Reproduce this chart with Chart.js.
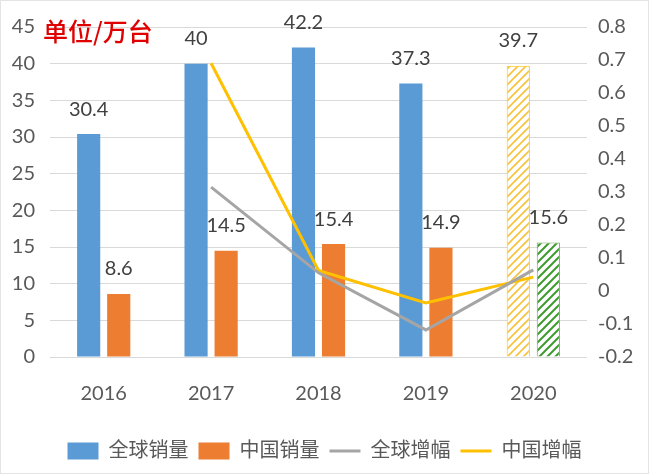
<!DOCTYPE html>
<html><head><meta charset="utf-8">
<script src="https://cdn.jsdelivr.net/npm/chart.js@4.4.0/dist/chart.umd.min.js"></script>
<style>html,body{margin:0;padding:0;background:#fff;} canvas{display:block;}</style>
</head><body>
<canvas id="c" width="649" height="474"></canvas>
<script>
const categories = ['2016', '2017', '2018', '2019', '2020'];
const globalSales = [30.4, 40, 42.2, 37.3, 39.7];
const chinaSales = [8.6, 14.5, 15.4, 14.9, 15.6];
const globalGrowth = [null, 0.315, 0.055, -0.118, 0.064];
const chinaGrowth = [null, 0.69, 0.062, -0.036, 0.042];
const seriesNames = ['全球销量', '中国销量', '全球增幅', '中国增幅'];
const leftTicks = { min: 0, max: 45, step: 5 };
const rightTicks = { min: -0.2, max: 0.8, step: 0.1 };
const unitLabel = '单位/万台';

const FONT = 'Lato, "Noto Sans CJK SC", sans-serif';

function hatch(color, bg, lw) {
  const s = 8;
  const c = document.createElement('canvas');
  c.width = s; c.height = s;
  const g = c.getContext('2d');
  g.fillStyle = bg; g.fillRect(0, 0, s, s);
  g.strokeStyle = color; g.lineWidth = lw;
  g.beginPath();
  g.moveTo(-2, 2); g.lineTo(2, -2);
  g.moveTo(0, s); g.lineTo(s, 0);
  g.moveTo(s - 2, s + 2); g.lineTo(s + 2, s - 2);
  g.stroke();
  return c.getContext('2d').createPattern(c, 'repeat');
}
const yellowHatch = hatch('#f5c23a', '#ffffff', 1.6);
const greenHatch = hatch('#3f9b30', '#ffffff', 2);

const blue = '#5b9bd5', orange = '#ed7d31', gray = '#a5a5a5', yellow = '#ffc000';

const barLabels = {
  id: 'barLabels',
  afterDatasetsDraw(chart) {
    const ctx = chart.ctx;
    ctx.save();
    ctx.font = '20px ' + FONT;
    ctx.fillStyle = '#404040';
    ctx.textAlign = 'center';
    ctx.textBaseline = 'middle';
    [0, 1].forEach(di => {
      const meta = chart.getDatasetMeta(di);
      meta.data.forEach((el, i) => {
        const v = chart.data.datasets[di].data[i];
        ctx.fillText(String(v), el.x, el.y - 25);
      });
    });
    ctx.font = '500 25px "Noto Sans CJK SC", sans-serif';
    ctx.fillStyle = '#e00000';
    ctx.textAlign = 'left';
    ctx.fillText(unitLabel, chart.chartArea.left - 7, chart.chartArea.top + 4);
    ctx.restore();
  },
  afterDraw(chart) {
    const ctx = chart.ctx;
    ctx.save();
    ctx.strokeStyle = '#e4e4e4';
    ctx.lineWidth = 1;
    ctx.strokeRect(0.5, 0.5, chart.width - 1, chart.height - 1);
    ctx.restore();
  }
};

const bg = {
  id: 'bg',
  beforeDraw(chart) {
    const ctx = chart.ctx;
    ctx.save(); ctx.fillStyle = '#fff'; ctx.fillRect(0, 0, chart.width, chart.height); ctx.restore();
  }
};

new Chart(document.getElementById('c'), {
  type: 'bar',
  data: {
    labels: categories,
    datasets: [
      {
        label: seriesNames[0], data: globalSales, yAxisID: 'y', order: 1,
        backgroundColor: [blue, blue, blue, blue, yellowHatch],
        borderColor: [blue, blue, blue, blue, yellow],
        borderWidth: [0, 0, 0, 0, 1],
        categoryPercentage: 0.56, barPercentage: 0.77, pointStyle: 'rect'
      },
      {
        label: seriesNames[1], data: chinaSales, yAxisID: 'y', order: 1,
        backgroundColor: [orange, orange, orange, orange, greenHatch],
        borderColor: [orange, orange, orange, orange, '#70ad47'],
        borderWidth: [0, 0, 0, 0, 1],
        categoryPercentage: 0.56, barPercentage: 0.77, pointStyle: 'rect'
      },
      {
        type: 'line', label: seriesNames[2], data: globalGrowth, yAxisID: 'y1', order: 0,
        borderColor: gray, backgroundColor: gray, borderWidth: 3, pointRadius: 0,
        tension: 0, pointStyle: 'line', spanGaps: false
      },
      {
        type: 'line', label: seriesNames[3], data: chinaGrowth, yAxisID: 'y1', order: 0,
        borderColor: yellow, backgroundColor: yellow, borderWidth: 3, pointRadius: 0,
        tension: 0, pointStyle: 'line', spanGaps: false
      }
    ]
  },
  options: {
    responsive: false,
    animation: false,
    layout: { padding: { top: 27, bottom: 3, left: 0, right: 0 } },
    plugins: {
      tooltip: { enabled: false },
      legend: {
        position: 'bottom',
        labels: {
          usePointStyle: true, pointStyleWidth: 31, boxHeight: 17,
          padding: 10, color: '#595959', font: { size: 20, family: FONT },
          sort: (a, b) => a.datasetIndex - b.datasetIndex
        }
      }
    },
    scales: {
      x: {
        grid: { display: false }, border: { display: false },
        ticks: { color: '#595959', font: { size: 20, family: FONT }, padding: 17 },
        afterFit(s) { s.height = 74; }
      },
      y: {
        position: 'left', min: leftTicks.min, max: leftTicks.max,
        ticks: { stepSize: leftTicks.step, color: '#595959', font: { size: 20, family: FONT }, padding: 15 },
        grid: { color: '#d9d9d9', drawTicks: false }, border: { display: false },
        afterFit(s) { s.width = 50; }
      },
      y1: {
        position: 'right', min: rightTicks.min, max: rightTicks.max,
        ticks: { stepSize: rightTicks.step, color: '#595959', font: { size: 20, family: FONT }, padding: 11,
          callback: v => String(Math.round(v * 10) / 10) },
        grid: { display: false, drawTicks: false }, border: { display: false },
        afterFit(s) { s.width = 62; }
      }
    }
  },
  plugins: [bg, barLabels]
});
</script>
</body></html>
